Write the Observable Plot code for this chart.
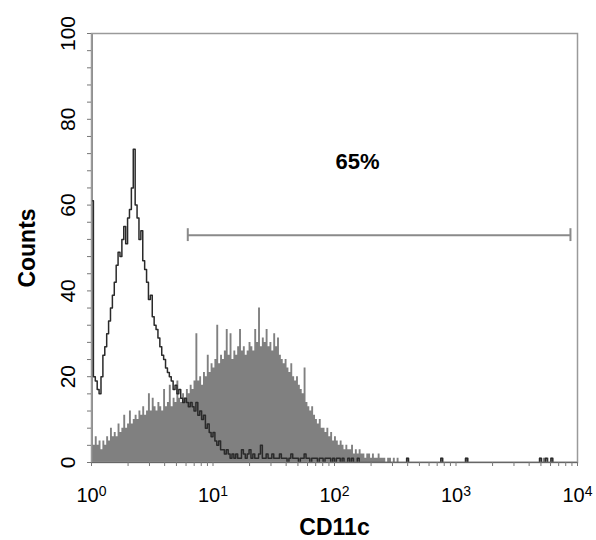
<!DOCTYPE html>
<html><head><meta charset="utf-8">
<script src="https://cdn.jsdelivr.net/npm/d3@7"></script>
<script src="https://cdn.jsdelivr.net/npm/@observablehq/plot@0.6"></script>
<style>body{margin:0;background:#fff} svg{display:block}</style>
</head><body><div id="chart"></div>
<script>
// channels of the log amplifier: 64 per decade, 10^0 .. 10^4
const channelsPerDecade = 64;

// CD11c-stained sample (filled grey histogram), counts per channel
const cd11cCounts = [
  100,4,6,4,5,3,5,4,6,5,
  8,6,7,6,9,7,8,11,8,9,
  12,9,10,11,10,12,11,13,11,12,
  16,12,15,13,12,14,13,12,17,13,
  14,18,13,15,14,19,15,14,16,15,
  17,16,18,17,19,30,19,20,18,21,
  20,25,21,23,22,24,32,23,25,24,
  26,31,25,30,24,26,25,27,31,26,
  27,25,26,28,27,26,31,28,36,27,
  29,28,31,27,28,26,30,27,29,25,
  24,23,24,22,21,23,20,19,20,18,
  17,16,22,14,13,12,13,11,10,9,
  10,8,8,7,8,6,7,5,6,5,
  4,5,4,3,4,3,3,4,2,3,
  2,3,2,2,1,2,2,1,2,1,
  1,2,1,1,1,0,1,1,0,1,
  0,1,0,0,0,0,1,0,0,0,
  0,0,0,0,0,0,0,0,0,0,
  0,0,0,0,1,0,0,0,0,0,
  0,0,0,0,0,0,0,1,1,0,
  0,0,0,0,0,0,0,0,0,0,
  0,0,0,0,0,0,0,0,0,0,
  0,0,0,0,0,0,0,0,0,0,
  0,0,0,0,0,0,1,0,1,0,
  1,0,1,0,0,0,0,0,0,0,
  0,0,0,0,0,0
];

// isotype control (open outline histogram), counts per channel
const isotypeCounts = [
  61,20,19,17,16,20,25,27,30,33,
  36,39,42,46,49,48,52,55,51,57,
  59,64,73,60,57,52,54,47,45,42,
  38,39,34,32,31,29,27,25,24,22,
  21,20,19,17,18,16,17,15,14,15,
  14,13,14,13,12,14,11,12,10,11,
  8,9,7,6,7,5,4,5,3,3,
  2,3,2,1,2,1,2,1,1,3,
  2,1,2,3,1,2,1,1,2,4,
  1,1,2,1,1,2,1,1,1,2,
  1,1,1,0,1,2,1,1,1,0,
  1,1,2,1,1,0,1,1,1,0,
  1,1,0,1,1,1,0,1,0,1,
  1,0,1,0,0,1,0,1,0,0,
  1,0,0,0,0,0,0,0,0,0,
  0,0,0,0,0,0,0,0,0,0,
  0,0,0,0,0,0,1,0,0,0,
  0,0,0,0,0,0,0,0,0,0,
  0,0,0,0,1,0,0,0,0,0,
  0,0,0,0,0,0,0,1,0,0,
  0,0,0,0,0,0,0,0,0,0,
  0,0,0,0,0,0,0,0,0,0,
  0,0,0,0,0,0,0,0,0,0,
  0,0,0,0,0,0,1,0,0,1,
  0,0,1,0,0,0,0,0,0,0,
  0,0,0,0,0,0
];

const decadeTicks = [1, 10, 100, 1000, 10000];
const decadeExponents = ["0", "1", "2", "3", "4"];
const yTicks = [0, 20, 40, 60, 80, 100];
const yMinorTicks = d3.range(0, 101, 4);
const xMinorTicks = [1, 10, 100, 1000].flatMap(d => [1,2,3,4,5,6,7,8,9].map(m => d * m)).concat([10000]);

const gate = {from: 6.2, to: 8750, level: 53, label: "65%", labelX: 155, labelY: 70};
const xTitle = "CD11c";
const yTitle = "Counts";

const toSteps = counts => counts.flatMap((c, i) => [
  {x: Math.pow(10, i / channelsPerDecade), y: c},
  {x: Math.pow(10, (i + 1) / channelsPerDecade), y: c}
]);
const fillPts = toSteps(cd11cCounts);
const ctrlPts = toSteps(isotypeCounts);

const font = "'Liberation Sans', Arial, Helvetica, sans-serif";

const chart = Plot.plot({
  width: 596, height: 540,
  marginLeft: 91, marginRight: 19, marginTop: 33, marginBottom: 78,
  style: {fontFamily: font, fontSize: "20px", color: "#000", background: "#fff"},
  x: {type: "log", domain: [1, 10000], axis: null},
  y: {domain: [0, 100], axis: null},
  marks: [
    Plot.areaY(fillPts, {x: "x", y1: 0, y2: "y", fill: "#808080", clip: true}),
    Plot.line(ctrlPts, {x: "x", y: "y", stroke: "#2a2a2a", strokeWidth: 1.5, clip: true}),
    Plot.frame({stroke: "#9a9a9a", strokeWidth: 1.5}),
    Plot.ruleY([0], {stroke: "#666", strokeWidth: 1}),
    Plot.axisY({ticks: yMinorTicks, tickSize: 4, tickFormat: () => "", stroke: "#777", label: null}),
    Plot.axisX({ticks: xMinorTicks, tickSize: 4, tickFormat: () => "", stroke: "#777", label: null}),
    Plot.text(yTicks, {y: d => d, frameAnchor: "left", dx: -23, rotate: -90, textAnchor: "middle", lineAnchor: "middle", text: d => String(d), fontSize: 21}),
    Plot.text(decadeTicks, {x: d => d, frameAnchor: "bottom", dy: 33, textAnchor: "middle", lineAnchor: "middle", text: () => "10", fontSize: 20}),
    Plot.text([yTitle], {y: () => 50, frameAnchor: "left", dx: -64, rotate: -90, textAnchor: "middle", lineAnchor: "middle", text: d => d, fontSize: 23, fontWeight: "bold"}),
    Plot.text([xTitle], {x: () => 100, frameAnchor: "bottom", dy: 65, textAnchor: "middle", lineAnchor: "middle", text: d => d, fontSize: 23, fontWeight: "bold"}),
    Plot.ruleY([gate], {x1: d => d.from, x2: d => d.to, y: d => d.level, stroke: "#8a8a8a", strokeWidth: 2}),
    Plot.ruleX([gate.from, gate.to], {x: d => d, y1: () => gate.level - 1.5, y2: () => gate.level + 1.5, stroke: "#8a8a8a", strokeWidth: 2}),
    Plot.text([gate], {x: d => d.labelX, y: d => d.labelY, text: d => d.label, fontSize: 22, fontWeight: "bold"})
  ]
});

let k = 0;
d3.select(chart).selectAll("text").each(function() {
  if (this.textContent === "10" && k < decadeExponents.length) {
    const t = d3.select(this);
    t.append("tspan").attr("dy", "-6px").attr("font-size", "14px").text(decadeExponents[k++]);
  }
});

document.getElementById("chart").appendChild(chart);
</script>
</body></html>
